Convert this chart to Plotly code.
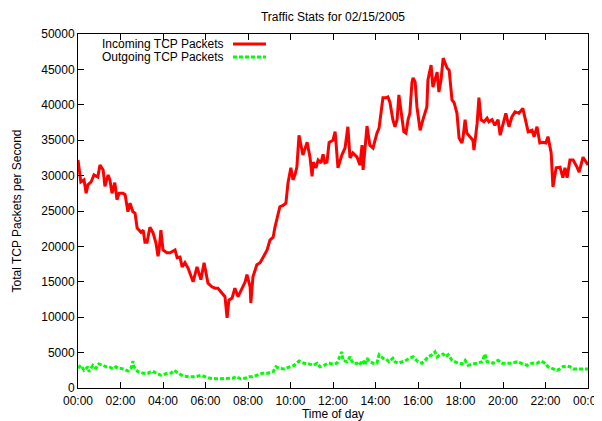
import plotly.graph_objects as go
from datetime import datetime, timedelta

# ---- data (minutes after midnight, packets/s) ----
in_minutes = [0, 8, 17, 23, 28, 37, 45, 56, 62, 71, 76, 85, 90, 96, 104, 110, 116, 127, 133, 141,
              147, 155, 161, 167, 178, 184, 189, 195, 203, 212, 220, 226, 229, 234, 240, 251, 260, 274, 280, 288,
              294, 302, 311, 325, 336, 347, 356, 367, 378, 387, 395, 407, 415, 421, 426, 435, 443, 452, 463, 472,
              477, 486, 488, 494, 505, 514, 522, 534, 542, 551, 556, 565, 570, 579, 587, 593, 601, 607, 613, 618,
              624, 635, 647, 655, 661, 664, 672, 678, 686, 692, 697, 703, 709, 720, 726, 734, 745, 754, 762, 768,
              776, 788, 796, 802, 805, 816, 824, 833, 844, 850, 861, 870, 875, 881, 889, 895, 901, 906, 915, 920,
              926, 932, 937, 943, 946, 952, 957, 966, 974, 980, 985, 988, 997, 1002, 1008, 1014, 1019, 1025, 1031, 1042,
              1048, 1056, 1062, 1070, 1076, 1084, 1087, 1093, 1098, 1107, 1115, 1118, 1127, 1132, 1138, 1146, 1155, 1160, 1169, 1177,
              1186, 1192, 1200, 1208, 1217, 1225, 1234, 1245, 1256, 1265, 1271, 1282, 1288, 1296, 1304, 1313, 1321, 1327, 1336, 1341,
              1350, 1361, 1369, 1375, 1381, 1389, 1398, 1409, 1415, 1426, 1437, 1440]
incoming = [32200, 29100, 29400, 27500, 28700, 29100, 30100, 29800, 31500, 30800, 28500, 30100, 29400, 27500, 29000, 26600, 27500, 27500, 27300, 24900,
            26100, 24900, 24700, 22600, 22000, 22300, 20600, 20600, 22700, 21900, 20500, 18600, 19500, 22300, 19500, 19100, 19100, 19500, 18400, 18500,
            17100, 17700, 16900, 15000, 17100, 15300, 17700, 14800, 14300, 14100, 14100, 13400, 12900, 9900, 12400, 12700, 14100, 12900, 14100, 15000,
            16000, 14300, 12000, 15700, 17400, 17700, 18400, 19500, 20900, 21300, 22700, 24700, 25600, 25800, 26100, 29000, 31100, 29400, 30200, 31200,
            35700, 32900, 34700, 32600, 29900, 31900, 31100, 32200, 31800, 33000, 31800, 31900, 34700, 35000, 36200, 31100, 32900, 33900, 36900, 32500,
            33200, 32600, 31500, 34300, 30800, 37000, 34300, 33900, 36000, 36700, 41000, 41000, 41100, 40300, 37900, 36900, 37900, 41400, 38300, 36200,
            36000, 37900, 38800, 43200, 43800, 43200, 39700, 36400, 37900, 38800, 39700, 43500, 45600, 42500, 43500, 44600, 41800, 43500, 46600, 45200,
            44900, 40700, 40300, 38800, 35300, 34600, 35300, 37900, 36000, 35500, 35000, 33600, 37400, 41000, 37900, 37600, 38100, 37600, 37900, 37100,
            37900, 35700, 37400, 38800, 36900, 38300, 39000, 38800, 39500, 37400, 36200, 36400, 35500, 36900, 34600, 34700, 34600, 35500, 33200, 28400,
            31100, 31200, 29700, 31100, 29700, 32200, 32200, 31200, 30500, 32600, 31800, 31500]

out_minutes = [0, 8, 17, 28, 31, 42, 51, 59, 71, 79, 88, 99, 107, 116, 127, 141, 150, 155, 158, 169,
               184, 198, 209, 220, 234, 248, 263, 271, 282, 296, 313, 333, 347, 356, 370, 390, 409, 424, 438, 446,
               460, 474, 483, 494, 508, 522, 536, 551, 559, 568, 582, 596, 610, 624, 638, 652, 664, 675, 683, 692,
               706, 720, 731, 737, 745, 748, 760, 768, 776, 788, 793, 805, 810, 816, 824, 833, 844, 850, 861, 870,
               878, 889, 895, 904, 918, 926, 935, 946, 952, 960, 971, 980, 988, 1000, 1008, 1014, 1022, 1031, 1039, 1045,
               1056, 1064, 1073, 1084, 1093, 1101, 1115, 1129, 1141, 1149, 1155, 1163, 1172, 1186, 1197, 1211, 1225, 1240, 1254, 1268,
               1282, 1296, 1307, 1319, 1327, 1341, 1352, 1361, 1369, 1381, 1389, 1398, 1412, 1431, 1440]
outgoing = [2800, 3200, 2500, 3000, 2300, 3200, 2800, 3400, 3200, 3000, 3000, 2700, 3000, 2800, 2700, 2400, 2800, 3800, 3000, 2300,
            2100, 2100, 2400, 2100, 1800, 2000, 2100, 2500, 2100, 1700, 1600, 1600, 1800, 1600, 1400, 1300, 1300, 1400, 1400, 1600,
            1300, 1400, 1600, 1600, 1800, 2100, 2100, 2300, 3000, 2800, 2700, 3000, 3200, 3800, 3500, 3400, 3200, 3500, 3000, 3100,
            3500, 3400, 3500, 4200, 5100, 3900, 3700, 4400, 3500, 3500, 3200, 3900, 3200, 4200, 3700, 3500, 3500, 4700, 4200, 4100,
            3700, 4200, 3700, 3500, 3700, 3900, 4200, 4400, 4100, 3700, 3500, 3900, 4400, 4700, 5100, 4400, 4700, 4800, 4400, 4700,
            3900, 3700, 3500, 3400, 3900, 3200, 3400, 3500, 3700, 4800, 3700, 3700, 3500, 3900, 3500, 3500, 3500, 3700, 3500, 3200,
            3500, 3500, 3800, 3500, 3000, 2700, 2500, 2700, 3000, 3100, 3000, 2700, 2700, 2700, 2700]

series_names = ["Incoming TCP Packets", "Outgoing TCP Packets"]
y_ticks = [0, 5000, 10000, 15000, 20000, 25000, 30000, 35000, 40000, 45000, 50000]
title_text = "Traffic Stats for 02/15/2005"
x_title = "Time of day"
y_title = "Total TCP Packets per Second"

day0 = datetime(2005, 2, 15)
def to_dt(mins):
    return [day0 + timedelta(minutes=m) for m in mins]

FONT = "Liberation Sans, Arial, sans-serif"
RED = "#ff0000"
GREEN = "#00ff00"
DASH = "4px,2px"

fig = go.Figure()
fig.add_trace(go.Scatter(x=to_dt(in_minutes), y=incoming, mode="lines", name=series_names[0],
                         line=dict(color=RED, width=3), showlegend=False))
fig.add_trace(go.Scatter(x=to_dt(out_minutes), y=outgoing, mode="lines", name=series_names[1],
                         line=dict(color=GREEN, width=3, dash=DASH), showlegend=False))

# page has an 8px body margin; figure is sized so the plot lands on the reference pixels
OFF = 8
W, H = 602 - OFF, 421 - OFF
PL, PR, PT, PB = 78, 588, 34, 388          # plot box in page pixels
L, T = PL - OFF, PT - OFF
R, B = W - (PR - OFF), H - (PB - OFF)
pw, ph = PR - PL, PB - PT

def px(xp):
    return (xp - PL) / pw
def py(yp):
    return (PB - yp) / ph

# gnuplot-style key (text left, sample right)
for i, (name, col, dash) in enumerate([(series_names[0], RED, "solid"), (series_names[1], GREEN, DASH)]):
    ypix = 44 + i * 13
    fig.add_annotation(x=px(226), y=py(ypix), xref="paper", yref="paper", text=name, showarrow=False,
                       xanchor="right", yanchor="middle", font=dict(family=FONT, size=12, color="#000"))
    fig.add_shape(type="line", xref="paper", yref="paper", x0=px(233), x1=px(266), y0=py(ypix), y1=py(ypix),
                  line=dict(color=col, width=3, dash=dash))

fig.update_layout(
    width=W, height=H,
    margin=dict(l=L, r=R, t=T, b=B, autoexpand=False),
    paper_bgcolor="white", plot_bgcolor="white",
    font=dict(family=FONT, size=12, color="#000"),
    title=dict(text=title_text, x=0.5, xref="paper", y=1 - (17 - OFF) / H, yref="container", yanchor="middle",
               font=dict(family=FONT, size=12, color="#000")),
)
fig.update_xaxes(
    type="date", range=[day0, day0 + timedelta(days=1)],
    tickformat="%H:%M", dtick=2 * 3600 * 1000, tick0=day0,
    ticks="inside", ticklen=6, tickcolor="#000", showline=True, linecolor="#000", linewidth=1,
    mirror="ticks", showgrid=False, zeroline=False, ticklabeloverflow="allow", ticklabelstandoff=2,
    tickfont=dict(family=FONT, size=12), automargin=False,
    title=dict(text=x_title, standoff=2, font=dict(family=FONT, size=12)),
)
fig.update_yaxes(
    range=[0, 50000], tickvals=y_ticks, tickformat="d",
    ticks="inside", ticklen=6, tickcolor="#000", showline=True, linecolor="#000", linewidth=1,
    mirror="ticks", showgrid=False, zeroline=False,
    tickfont=dict(family=FONT, size=12), automargin=False,
    title=dict(text=y_title, standoff=17, font=dict(family=FONT, size=12)),
)

fig.write_html("out.html")
